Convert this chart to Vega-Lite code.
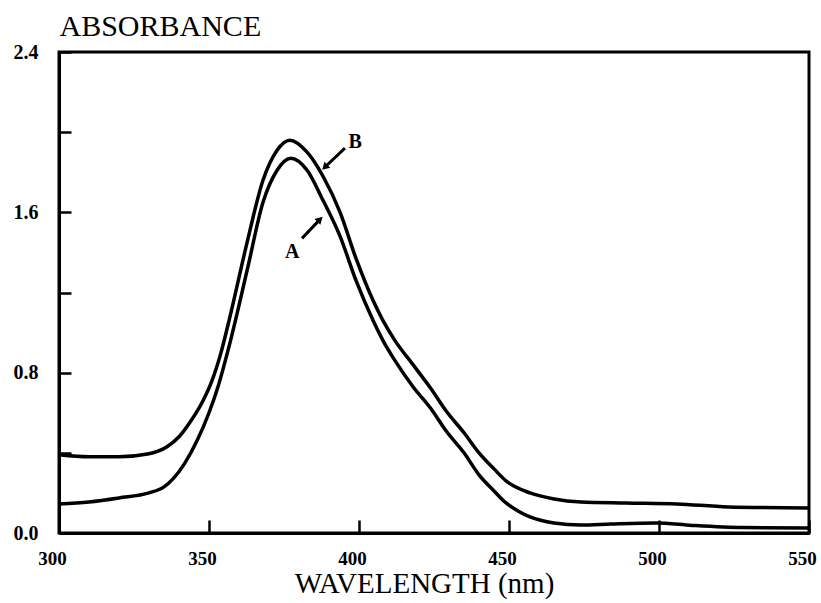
{
  "$schema": "https://vega.github.io/schema/vega-lite/v6.json",
  "autosize": {"type": "none"},
  "padding": {"left": 59, "top": 52, "right": 12, "bottom": 70},
  "width": 750,
  "height": 481,
  "background": "white",
  "config": {
    "view": {"stroke": "black", "strokeWidth": 3},
    "font": "Liberation Serif"
  },
  "datasets": {
    "curves": [
      {"series": "B", "wl": 300, "abs": 0.39},
      {"series": "B", "wl": 310, "abs": 0.38},
      {"series": "B", "wl": 320, "abs": 0.38},
      {"series": "B", "wl": 330, "abs": 0.395},
      {"series": "B", "wl": 336, "abs": 0.43},
      {"series": "B", "wl": 340, "abs": 0.48},
      {"series": "B", "wl": 344, "abs": 0.56},
      {"series": "B", "wl": 348, "abs": 0.66},
      {"series": "B", "wl": 351, "abs": 0.76},
      {"series": "B", "wl": 354, "abs": 0.90},
      {"series": "B", "wl": 357, "abs": 1.08},
      {"series": "B", "wl": 362.7, "abs": 1.45},
      {"series": "B", "wl": 368, "abs": 1.76},
      {"series": "B", "wl": 372.7, "abs": 1.91},
      {"series": "B", "wl": 377, "abs": 1.96},
      {"series": "B", "wl": 382.7, "abs": 1.90},
      {"series": "B", "wl": 388, "abs": 1.78},
      {"series": "B", "wl": 393.7, "abs": 1.60},
      {"series": "B", "wl": 399, "abs": 1.37},
      {"series": "B", "wl": 404.7, "abs": 1.16},
      {"series": "B", "wl": 408, "abs": 1.06},
      {"series": "B", "wl": 412, "abs": 0.96},
      {"series": "B", "wl": 418, "abs": 0.84},
      {"series": "B", "wl": 424, "abs": 0.72},
      {"series": "B", "wl": 429, "abs": 0.61},
      {"series": "B", "wl": 435, "abs": 0.50},
      {"series": "B", "wl": 440, "abs": 0.40},
      {"series": "B", "wl": 445, "abs": 0.32},
      {"series": "B", "wl": 449, "abs": 0.26},
      {"series": "B", "wl": 457, "abs": 0.20},
      {"series": "B", "wl": 465, "abs": 0.17},
      {"series": "B", "wl": 474, "abs": 0.155},
      {"series": "B", "wl": 489, "abs": 0.15},
      {"series": "B", "wl": 506, "abs": 0.145},
      {"series": "B", "wl": 523, "abs": 0.13},
      {"series": "B", "wl": 550, "abs": 0.125},
      {"series": "A", "wl": 300, "abs": 0.145},
      {"series": "A", "wl": 310, "abs": 0.155},
      {"series": "A", "wl": 320, "abs": 0.175},
      {"series": "A", "wl": 330, "abs": 0.20},
      {"series": "A", "wl": 335, "abs": 0.23},
      {"series": "A", "wl": 338, "abs": 0.27},
      {"series": "A", "wl": 342, "abs": 0.35},
      {"series": "A", "wl": 346, "abs": 0.46},
      {"series": "A", "wl": 350, "abs": 0.60},
      {"series": "A", "wl": 353, "abs": 0.73},
      {"series": "A", "wl": 357, "abs": 0.95},
      {"series": "A", "wl": 362.7, "abs": 1.31},
      {"series": "A", "wl": 368, "abs": 1.65},
      {"series": "A", "wl": 372.7, "abs": 1.81},
      {"series": "A", "wl": 377.3, "abs": 1.87},
      {"series": "A", "wl": 382.7, "abs": 1.81},
      {"series": "A", "wl": 388, "abs": 1.66},
      {"series": "A", "wl": 393.7, "abs": 1.48},
      {"series": "A", "wl": 399, "abs": 1.26},
      {"series": "A", "wl": 404.7, "abs": 1.06},
      {"series": "A", "wl": 408, "abs": 0.96},
      {"series": "A", "wl": 412, "abs": 0.86},
      {"series": "A", "wl": 418, "abs": 0.73},
      {"series": "A", "wl": 424, "abs": 0.62},
      {"series": "A", "wl": 429, "abs": 0.51},
      {"series": "A", "wl": 435, "abs": 0.40},
      {"series": "A", "wl": 440, "abs": 0.29},
      {"series": "A", "wl": 445, "abs": 0.21},
      {"series": "A", "wl": 449, "abs": 0.15},
      {"series": "A", "wl": 453, "abs": 0.11},
      {"series": "A", "wl": 457, "abs": 0.08},
      {"series": "A", "wl": 465, "abs": 0.05},
      {"series": "A", "wl": 474, "abs": 0.04},
      {"series": "A", "wl": 484, "abs": 0.045},
      {"series": "A", "wl": 499, "abs": 0.05},
      {"series": "A", "wl": 511, "abs": 0.038},
      {"series": "A", "wl": 528, "abs": 0.027},
      {"series": "A", "wl": 550, "abs": 0.025}
    ],
    "labels": [
      {"name": "B", "wl": 398.7, "abs": 1.95},
      {"name": "A", "wl": 377.7, "abs": 1.40}
    ],
    "arrows": [
      {"name": "B", "wl": 395.3, "abs": 1.92, "wl2": 388.6, "abs2": 1.825, "hx": 388.6, "hy": 1.825, "angle": 225},
      {"name": "A", "wl": 381, "abs": 1.47, "wl2": 387, "abs2": 1.565, "hx": 387, "hy": 1.565, "angle": 45}
    ]
  },
  "layer": [
    {
      "data": {"name": "curves"},
      "mark": {"type": "line", "color": "black", "strokeWidth": 3.5, "interpolate": "monotone"},
      "encoding": {
        "x": {
          "field": "wl", "type": "quantitative",
          "scale": {"domain": [300, 550], "nice": false, "zero": false},
          "axis": {
            "values": [300, 350, 400, 450, 500, 550],
            "title": "WAVELENGTH (nm)",
            "titleFont": "Liberation Serif", "titleFontSize": 29, "titleFontWeight": "normal",
            "titleColor": "black", "titlePadding": 1, "titleX": 365,
            "labelFont": "Liberation Serif", "labelFontSize": 19, "labelFontWeight": "bold",
            "labelColor": "black", "labelPadding": 29, "labelOffset": -7,
            "labelFlush": false,
            "grid": false,
            "domainColor": "black", "domainWidth": 3,
            "tickColor": "black", "tickWidth": 2.5, "tickSize": -13,
            "format": "d"
          }
        },
        "y": {
          "field": "abs", "type": "quantitative",
          "scale": {"domain": [0, 2.4], "nice": false},
          "axis": {
            "values": [0, 0.4, 0.8, 1.2, 1.6, 2.0, 2.4],
            "format": ".1f",
            "labelExpr": "(round(datum.value*10) % 8 == 0) ? datum.label : ''",
            "title": "ABSORBANCE",
            "titleAngle": 0, "titleAlign": "left", "titleBaseline": "alphabetic",
            "titleX": 0, "titleY": -17,
            "titleFont": "Liberation Serif", "titleFontSize": 30, "titleFontWeight": "normal",
            "titleColor": "black",
            "labelFont": "Liberation Serif", "labelFontSize": 20, "labelFontWeight": "bold",
            "labelColor": "black", "labelPadding": 33, "labelFlush": false,
            "grid": false,
            "domainColor": "black", "domainWidth": 3,
            "tickColor": "black", "tickWidth": 2.5, "tickSize": -12
          }
        },
        "detail": {"field": "series"}
      }
    },
    {
      "data": {"name": "arrows"},
      "mark": {"type": "rule", "color": "black", "strokeWidth": 3},
      "encoding": {
        "x": {"field": "wl", "type": "quantitative"},
        "y": {"field": "abs", "type": "quantitative"},
        "x2": {"field": "wl2"},
        "y2": {"field": "abs2"}
      }
    },
    {
      "data": {"name": "arrows"},
      "mark": {"type": "point", "shape": "triangle-up", "filled": true, "color": "black", "size": 70, "opacity": 1},
      "encoding": {
        "x": {"field": "hx", "type": "quantitative"},
        "y": {"field": "hy", "type": "quantitative"},
        "angle": {"field": "angle", "type": "quantitative", "scale": null}
      }
    },
    {
      "data": {"name": "labels"},
      "mark": {"type": "text", "font": "Liberation Serif", "fontSize": 20, "fontWeight": "bold", "color": "black", "align": "center", "baseline": "middle"},
      "encoding": {
        "x": {"field": "wl", "type": "quantitative"},
        "y": {"field": "abs", "type": "quantitative"},
        "text": {"field": "name"}
      }
    }
  ]
}
